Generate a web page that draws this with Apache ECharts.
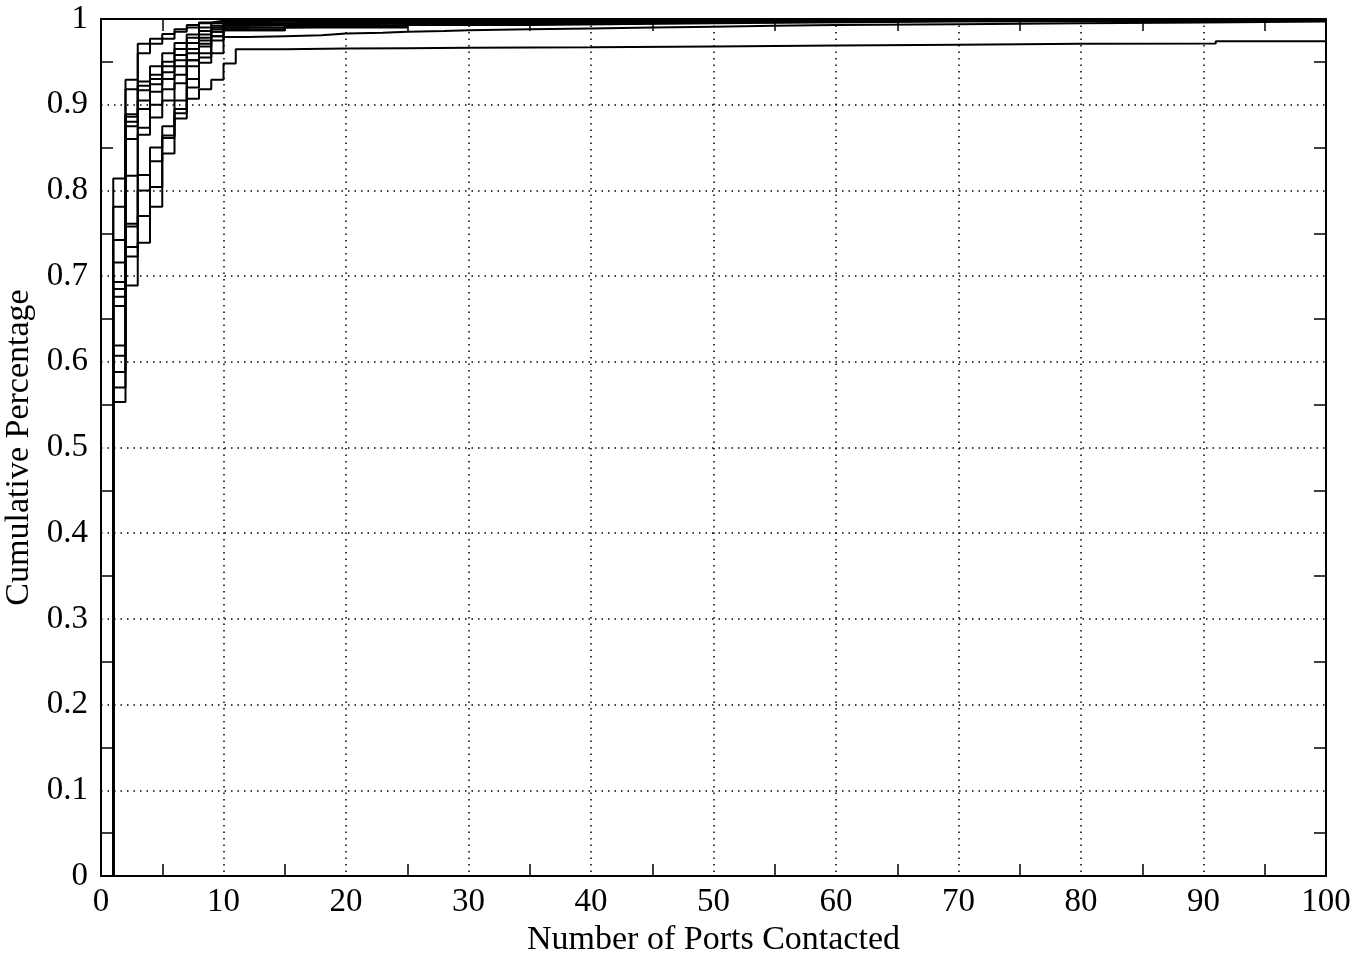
<!DOCTYPE html>
<html>
<head>
<meta charset="utf-8">
<script src="https://cdn.jsdelivr.net/npm/echarts@6/dist/echarts.min.js"></script>
<style>
  html, body { margin: 0; padding: 0; background: #fff; }
  #chart { width: 1352px; height: 960px; }
</style>
</head>
<body>
<div id="chart"></div>
<script>
// 每条曲线: [端口数, 累计比例]
const cdf01 = [[0, 0], [1, 0.814], [2, 0.929], [3, 0.971], [4, 0.977], [5, 0.9825], [6, 0.988], [7, 0.993], [8, 0.996], [9, 0.998], [10, 0.999], [15, 1], [100, 1]];
const cdf02 = [[0, 0], [1, 0.781], [2, 0.918], [3, 0.960], [4, 0.971], [5, 0.977], [6, 0.985], [7, 0.990], [8, 0.995], [9, 0.997], [10, 0.998], [20, 0.999], [30, 1], [100, 1]];
const cdf03 = [[0, 0], [1, 0.742], [2, 0.889], [3, 0.927], [4, 0.945], [5, 0.960], [6, 0.972], [7, 0.982], [8, 0.990], [9, 0.995], [10, 0.997], [15, 0.998], [25, 0.999], [40, 1], [100, 1]];
const cdf04 = [[0, 0], [1, 0.716], [2, 0.886], [3, 0.922], [4, 0.935], [5, 0.950], [6, 0.965], [7, 0.978], [8, 0.986], [9, 0.992], [10, 0.995], [15, 0.997], [25, 0.998], [35, 0.999], [60, 1], [100, 1]];
const cdf05 = [[0, 0], [1, 0.693], [2, 0.880], [3, 0.917], [4, 0.930], [5, 0.945], [6, 0.958], [7, 0.972], [8, 0.982], [9, 0.990], [10, 0.994], [15, 0.996], [25, 0.998], [45, 0.999], [70, 1], [100, 1]];
const cdf06 = [[0, 0], [1, 0.685], [2, 0.875], [3, 0.905], [4, 0.924], [5, 0.938], [6, 0.952], [7, 0.965], [8, 0.978], [9, 0.988], [10, 0.992], [13, 0.994], [20, 0.996], [35, 0.998], [55, 0.999], [80, 1], [100, 1]];
const cdf07 = [[0, 0], [1, 0.676], [2, 0.860], [3, 0.895], [4, 0.915], [5, 0.930], [6, 0.945], [7, 0.960], [8, 0.975], [9, 0.985], [10, 0.990], [15, 0.992], [25, 0.995], [35, 0.997], [50, 0.998], [75, 0.999], [100, 0.999]];
const cdf08 = [[0, 0], [1, 0.665], [2, 0.817], [3, 0.873], [4, 0.900], [5, 0.918], [6, 0.935], [7, 0.952], [8, 0.968], [9, 0.980], [10, 0.987], [15, 0.991], [20, 0.993], [25, 0.995], [35, 0.997], [50, 0.998], [65, 0.999], [90, 1], [100, 1]];
const cdf09 = [[0, 0], [1, 0.619], [2, 0.761], [3, 0.865], [4, 0.885], [5, 0.905], [6, 0.925], [7, 0.952], [8, 0.971], [9, 0.985], [10, 0.990], [12, 0.993], [20, 0.996], [40, 0.999], [100, 0.999]];
const cdf10 = [[0, 0], [1, 0.607], [2, 0.758], [3, 0.818], [4, 0.850], [5, 0.875], [6, 0.905], [7, 0.945], [8, 0.960], [9, 0.980], [10, 0.987], [15, 0.990], [25, 0.993], [35, 0.995], [50, 0.997], [70, 0.998], [100, 0.998]];
const cdf11 = [[0, 0], [1, 0.588], [2, 0.734], [3, 0.800], [4, 0.834], [5, 0.864], [6, 0.895], [7, 0.920], [8, 0.949], [9, 0.960], [10, 0.979], [12, 0.980], [15, 0.981], [18, 0.983], [20, 0.984], [23, 0.985], [25, 0.986], [28, 0.987], [30, 0.988], [35, 0.989], [40, 0.990], [45, 0.991], [50, 0.992], [55, 0.993], [60, 0.994], [70, 0.995], [80, 0.996], [90, 0.997], [100, 0.997]];
const cdf12 = [[0, 0], [1, 0.570], [2, 0.723], [3, 0.770], [4, 0.804], [5, 0.861], [6, 0.890], [7, 0.930], [8, 0.955], [9, 0.975], [10, 0.988], [15, 0.992], [25, 0.995], [35, 0.997], [50, 0.999], [100, 0.999]];
const cdf13 = [[0, 0], [1, 0.553], [2, 0.689], [3, 0.739], [4, 0.781], [5, 0.843], [6, 0.884], [7, 0.907], [8, 0.918], [9, 0.929], [10, 0.948], [11, 0.9646], [15, 0.9655], [20, 0.966], [25, 0.9665], [30, 0.967], [40, 0.968], [50, 0.969], [60, 0.970], [70, 0.971], [80, 0.9715], [91, 0.974], [100, 0.974]];

const curves = [cdf01, cdf02, cdf03, cdf04, cdf05, cdf06, cdf07, cdf08, cdf09, cdf10, cdf11, cdf12, cdf13];

const xName = "Number of Ports Contacted";
const yName = "Cumulative Percentage";

const font = "Liberation Serif";

// 轴的公共样式
const axisBase = {
  type: "value",
  axisLine: { show: true, onZero: false, lineStyle: { color: "#000", width: 2 } },
  axisTick: { show: false, inside: true },
  minorTick: { show: true, splitNumber: 2, length: 12, lineStyle: { color: "#000", width: 1.5 } },
  axisLabel: { color: "#000", fontFamily: font, fontSize: 33 },
};

const chart = echarts.init(document.getElementById("chart"));
const option = {
  animation: false,
  backgroundColor: "#fff",
  grid: { left: 101, right: 26, top: 19, bottom: 84, containLabel: false, outerBoundsMode: "none" },
  xAxis: [
    {
      ...axisBase,
      position: "bottom",
      min: 0,
      max: 100,
      interval: 10,
      axisLabel: { ...axisBase.axisLabel, margin: 10 },
      splitLine: { show: true, lineStyle: { color: "#000", width: 1.5, type: [1.5, 5] } },
      name: xName,
      nameLocation: "middle",
      nameGap: 47,
      nameMoveOverlap: false,
      nameTextStyle: { color: "#000", fontFamily: font, fontSize: 34 },
    },
    {
      ...axisBase,
      position: "top",
      min: 0,
      max: 100,
      interval: 10,
      axisLabel: { show: false },
      splitLine: { show: false },
    },
  ],
  yAxis: [
    {
      ...axisBase,
      position: "left",
      min: 0,
      max: 1,
      interval: 0.1,
      axisLabel: { ...axisBase.axisLabel, margin: 13 },
      splitLine: { show: true, lineStyle: { color: "#000", width: 1.5, type: [1.5, 5] } },
      name: yName,
      nameLocation: "middle",
      nameGap: 65,
      nameMoveOverlap: false,
      nameTextStyle: { color: "#000", fontFamily: font, fontSize: 34 },
    },
    {
      ...axisBase,
      position: "right",
      min: 0,
      max: 1,
      interval: 0.1,
      axisLabel: { show: false },
      splitLine: { show: false },
    },
  ],
  series: curves.map((data) => ({
    type: "line",
    step: "end",
    data: data,
    showSymbol: false,
    symbol: "none",
    clip: true,
    lineStyle: { color: "#000", width: 2 },
  })),
};
chart.setOption(option);
</script>
</body>
</html>
